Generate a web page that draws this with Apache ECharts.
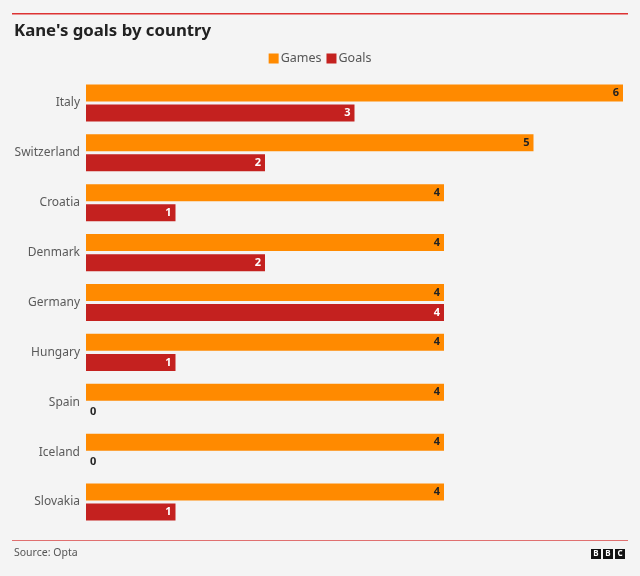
<!DOCTYPE html>
<html><head><meta charset="utf-8">
<script src="https://cdn.jsdelivr.net/npm/echarts@6/dist/echarts.min.js"></script>
<style>html,body{margin:0;padding:0;background:#f4f4f4;}#c{width:640px;height:576px;}</style>
</head><body><div id="c"></div>
<script>
const categories = ["Italy","Switzerland","Croatia","Denmark","Germany","Hungary","Spain","Iceland","Slovakia"];
const games = [6,5,4,4,4,4,4,4,4];
const goals = [3,2,1,2,4,1,0,0,1];
const FONT = '"Noto Sans", "Open Sans", sans-serif';
const chart = echarts.init(document.getElementById('c'));
function goalData(v){
  if (v === 0) return {value:v, label:{position:'right', color:'#222', distance:4}};
  return v;
}
chart.setOption({
  backgroundColor:'#f4f4f4',
  animation:false,
  textStyle:{fontFamily:FONT},
  title:{text:"Kane's goals by country", left:14, top:23, padding:0,
    textStyle:{fontFamily:FONT, fontSize:16.8, fontWeight:'bold', color:'#222'}},
  legend:{top:47, left:'center', itemWidth:10, itemHeight:10, itemGap:5,
    icon:'rect', textStyle:{fontFamily:FONT, fontSize:12.5, color:'#555', padding:[0,0,0,-3]},
    data:['Games','Goals']},
  grid:{left:86, right:17, top:78, bottom:49},
  xAxis:{type:'value', min:0, max:6, show:false},
  yAxis:{type:'category', data:categories, inverse:true,
    axisLine:{show:false}, axisTick:{show:false},
    axisLabel:{color:'#5a5a5a', fontSize:12, fontFamily:FONT, margin:6}},
  series:[
    {name:'Games', type:'bar', data:games, barWidth:17, barGap:'18%',
     itemStyle:{color:'#FF8A00'},
     label:{show:true, position:'insideRight', color:'#222', fontSize:11, fontWeight:'bold', distance:4}},
    {name:'Goals', type:'bar', data:goals.map(goalData), barWidth:17,
     itemStyle:{color:'#C4211F'},
     label:{show:true, position:'insideRight', color:'#fff', fontSize:11, fontWeight:'bold', distance:4}}
  ],
  graphic:[
    {type:'rect', shape:{x:12,y:13,width:616,height:1.5}, style:{fill:'#d33'}},
    {type:'rect', shape:{x:12,y:540,width:616,height:1}, style:{fill:'#e07070'}},
    {type:'text', left:14, top:548, style:{text:'Source: Opta', fontFamily:FONT, fontSize:10.5, fill:'#555'}},
    {type:'rect', shape:{x:591,y:549,width:10,height:10}, style:{fill:'#111'}},
    {type:'rect', shape:{x:603,y:549,width:10,height:10}, style:{fill:'#111'}},
    {type:'rect', shape:{x:615,y:549,width:10,height:10}, style:{fill:'#111'}},
    {type:'text', x:596, y:554, style:{text:'B', fill:'#fff', fontSize:8, fontWeight:'bold', fontFamily:FONT, align:'center', verticalAlign:'middle'}},
    {type:'text', x:608, y:554, style:{text:'B', fill:'#fff', fontSize:8, fontWeight:'bold', fontFamily:FONT, align:'center', verticalAlign:'middle'}},
    {type:'text', x:620, y:554, style:{text:'C', fill:'#fff', fontSize:8, fontWeight:'bold', fontFamily:FONT, align:'center', verticalAlign:'middle'}}
  ]
});
</script></body></html>
